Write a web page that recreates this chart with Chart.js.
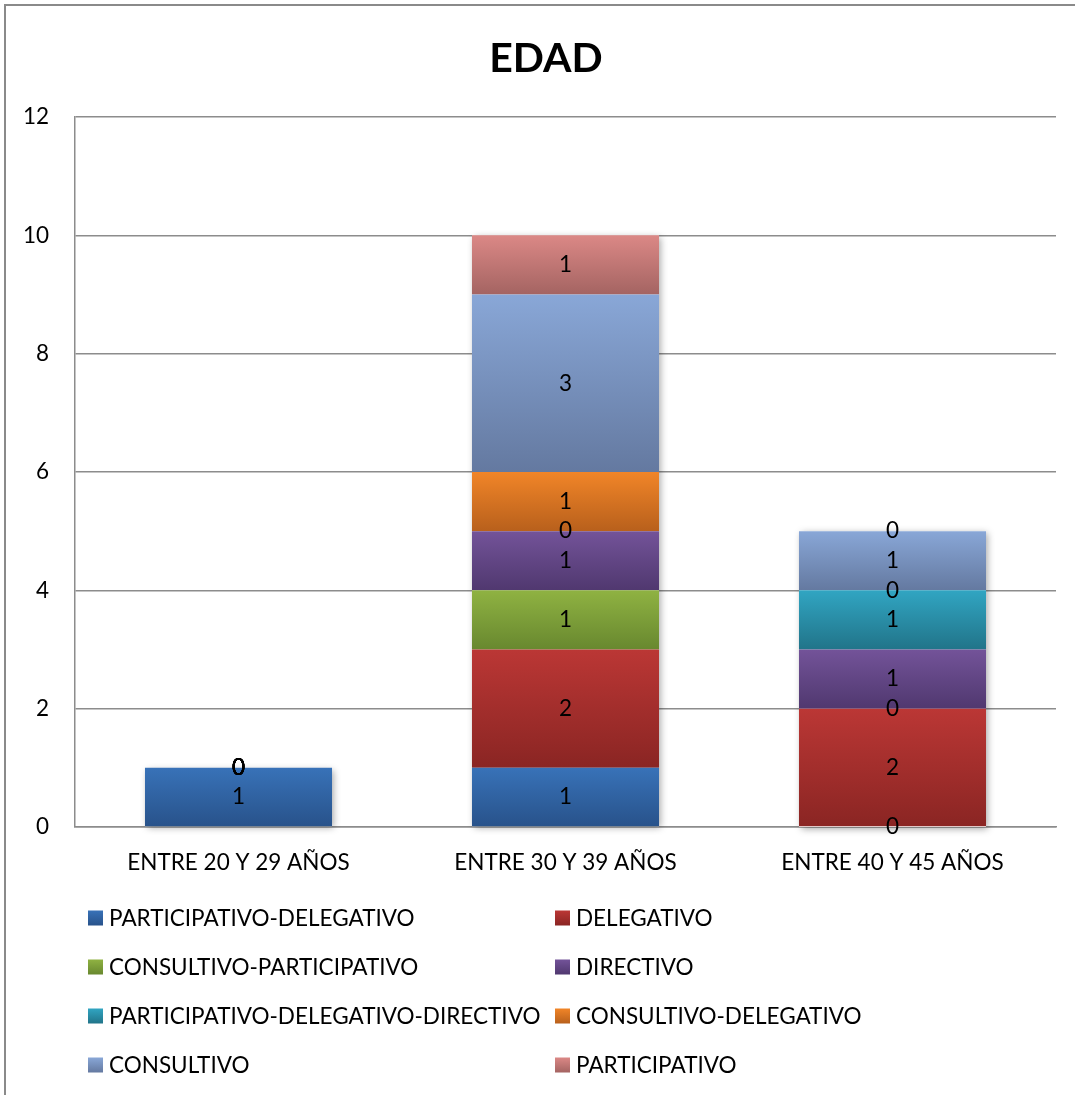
<!DOCTYPE html>
<html>
<head>
<meta charset="utf-8">
<title>EDAD</title>
<script src="https://cdn.jsdelivr.net/npm/chart.js@4.4.1/dist/chart.umd.min.js"></script>
<style>
  html, body { margin: 0; padding: 0; background: #ffffff; }
  #wrap { width: 1075px; height: 1095px; position: relative; }
</style>
</head>
<body>
<div id="wrap"><canvas id="chart" width="1075" height="1095"></canvas></div>
<script>
// Age groups on the x axis
const categories = ['ENTRE 20 Y 29 AÑOS', 'ENTRE 30 Y 39 AÑOS', 'ENTRE 40 Y 45 AÑOS'];

// Leadership styles (stacked from bottom to top)
const seriesNames = [
  'PARTICIPATIVO-DELEGATIVO',
  'DELEGATIVO',
  'CONSULTIVO-PARTICIPATIVO',
  'DIRECTIVO',
  'PARTICIPATIVO-DELEGATIVO-DIRECTIVO',
  'CONSULTIVO-DELEGATIVO',
  'CONSULTIVO',
  'PARTICIPATIVO'
];

// Counts per age group
const participativoDelegativo = [1, 1, 0];
const delegativo = [0, 2, 2];
const consultivoParticipativo = [0, 1, 0];
const directivo = [0, 1, 1];
const participativoDelegativoDirectivo = [0, 0, 1];
const consultivoDelegativo = [0, 1, 0];
const consultivo = [0, 3, 1];
const participativo = [0, 1, 0];

const seriesValues = [
  participativoDelegativo, delegativo, consultivoParticipativo, directivo,
  participativoDelegativoDirectivo, consultivoDelegativo, consultivo, participativo
];

// Y axis ticks
const yTicks = [0, 2, 4, 6, 8, 10, 12];

const chartTitle = 'EDAD';

// Top / bottom shades for each series' vertical gradient
const shadesTop = ['#3872b8', '#bb3735', '#8fb242', '#735399', '#31a5c2', '#f18528', '#89a7d7', '#db8886'];
const shadesBottom = ['#28528a', '#8a2523', '#68882f', '#50386f', '#217489', '#b8601c', '#6479a0', '#a46462'];

const FONT = 'Lato, "Open Sans", "DejaVu Sans", sans-serif';
const TEXT_SIZE = 22.5;

function segmentGradient(chart, top, bottom, yTop, yBottom) {
  const g = chart.ctx.createLinearGradient(0, yTop, 0, yBottom);
  g.addColorStop(0, top);
  g.addColorStop(1, bottom);
  return g;
}

const datasets = seriesNames.map((name, d) => ({
  label: name,
  data: seriesValues[d],
  borderWidth: 0,
  backgroundColor: (ctx) => {
    const chart = ctx.chart;
    const y = chart.scales && chart.scales.y;
    if (!y || ctx.type !== 'data' || !chart.chartArea) return shadesTop[d];
    const i = ctx.dataIndex;
    let start = 0;
    for (let k = 0; k < d; k++) start += seriesValues[k][i];
    const end = start + seriesValues[d][i];
    const yTop = y.getPixelForValue(end);
    const yBottom = y.getPixelForValue(start);
    if (!isFinite(yTop) || !isFinite(yBottom) || yTop === yBottom) return shadesTop[d];
    return segmentGradient(chart, shadesTop[d], shadesBottom[d], yTop, yBottom);
  }
}));

// Outer frame of the chart
const framePlugin = {
  id: 'frame',
  beforeDraw(chart) {
    const c = chart.ctx;
    c.save();
    c.fillStyle = '#ffffff';
    c.fillRect(0, 0, chart.width, chart.height);
    c.strokeStyle = '#8a8a8a';
    c.lineWidth = 2;
    c.beginPath();
    c.moveTo(5, chart.height + 2);
    c.lineTo(5, 5);
    c.lineTo(chart.width + 2, 5);
    c.stroke();
    c.restore();
  }
};

// Bold title above the plot
const titlePlugin = {
  id: 'chartTitle',
  afterDraw(chart) {
    const c = chart.ctx;
    c.save();
    c.font = 'bold 41px ' + FONT;
    c.fillStyle = '#000000';
    c.textAlign = 'center';
    c.textBaseline = 'alphabetic';
    c.fillText(chartTitle, 546, 72);
    c.restore();
  }
};

// Soft shadow behind each stacked column
const shadowPlugin = {
  id: 'stackShadow',
  beforeDatasetsDraw(chart) {
    const c = chart.ctx;
    const n = chart.data.labels.length;
    c.save();
    for (let i = 0; i < n; i++) {
      let top = Infinity, bottom = -Infinity, x = 0, w = 0;
      chart.data.datasets.forEach((ds, d) => {
        const el = chart.getDatasetMeta(d).data[i];
        if (!el) return;
        top = Math.min(top, el.y, el.base);
        bottom = Math.max(bottom, el.y, el.base);
        x = el.x; w = el.width;
      });
      if (!isFinite(top) || bottom - top < 1) continue;
      c.shadowColor = 'rgba(0,0,0,0.35)';
      c.shadowBlur = 7;
      c.shadowOffsetX = 2;
      c.shadowOffsetY = 2;
      c.fillStyle = '#ffffff';
      c.fillRect(x - w / 2, top, w, bottom - top);
    }
    c.restore();
  }
};

// Value labels centred in every segment (zeros included)
const valueLabelPlugin = {
  id: 'valueLabels',
  afterDatasetsDraw(chart) {
    const c = chart.ctx;
    c.save();
    c.font = TEXT_SIZE + 'px ' + FONT;
    c.fillStyle = '#000000';
    c.textAlign = 'center';
    c.textBaseline = 'middle';
    chart.data.datasets.forEach((ds, d) => {
      const meta = chart.getDatasetMeta(d);
      meta.data.forEach((el, i) => {
        const v = ds.data[i];
        c.fillText(String(v), el.x, (el.y + el.base) / 2);
      });
    });
    c.restore();
  }
};

// Two-column legend under the plot
const legendPlugin = {
  id: 'twoColLegend',
  afterDraw(chart) {
    const c = chart.ctx;
    const area = chart.chartArea;
    const colX = [88, 555];
    const firstRow = area.bottom + 91;
    const rowGap = 49;
    const box = 15;
    c.save();
    c.font = TEXT_SIZE + 'px ' + FONT;
    c.textBaseline = 'middle';
    c.textAlign = 'left';
    chart.data.datasets.forEach((ds, d) => {
      const col = d % 2, row = Math.floor(d / 2);
      const x = colX[col];
      const y = firstRow + row * rowGap;
      c.fillStyle = segmentGradient(chart, shadesTop[d], shadesBottom[d], y - box / 2, y + box / 2);
      c.fillRect(x, y - box / 2, box, box);
      c.fillStyle = '#000000';
      c.fillText(ds.label, x + box + 6, y + 1);
    });
    c.restore();
  }
};

new Chart(document.getElementById('chart'), {
  type: 'bar',
  data: { labels: categories, datasets },
  plugins: [framePlugin, shadowPlugin, valueLabelPlugin, legendPlugin, titlePlugin],
  options: {
    responsive: false,
    animation: false,
    events: [],
    layout: { padding: { left: 0, right: 19, top: 117, bottom: 208 } },
    datasets: { bar: { barPercentage: 0.572, categoryPercentage: 1.0 } },
    plugins: {
      legend: { display: false },
      tooltip: { enabled: false },
      title: { display: false }
    },
    scales: {
      x: {
        stacked: true,
        grid: { display: false, drawTicks: false },
        border: { display: true, color: '#8c8c8c', width: 1.5 },
        ticks: { color: '#000000', font: { family: FONT, size: TEXT_SIZE }, padding: 22, maxRotation: 0 },
        afterFit(scale) { scale.height = 60; }
      },
      y: {
        stacked: true,
        min: 0,
        max: 12,
        afterBuildTicks(scale) { scale.ticks = yTicks.map(v => ({ value: v })); },
        grid: { color: '#8c8c8c', lineWidth: 1.5, drawTicks: false },
        border: { display: true, color: '#8c8c8c', width: 1.5 },
        ticks: { color: '#000000', font: { family: FONT, size: TEXT_SIZE }, padding: 26 },
        afterFit(scale) { scale.width = 75; }
      }
    }
  }
});
</script>
</body>
</html>
